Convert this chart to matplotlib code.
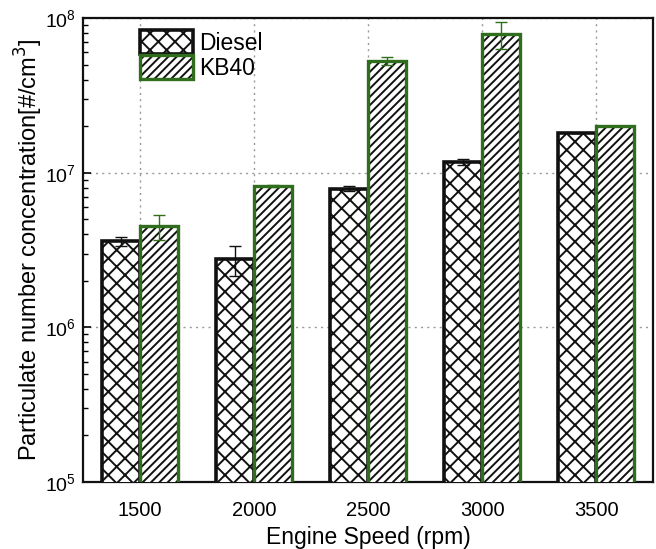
import matplotlib
matplotlib.use("Agg")
import matplotlib.pyplot as plt
import numpy as np
from matplotlib.patches import Patch
from matplotlib.legend_handler import HandlerTuple

plt.rcParams['font.family'] = ['Liberation Sans', 'DejaVu Sans']

speeds = ['1500', '2000', '2500', '3000', '3500']
diesel = [3.6e6, 2.76e6, 7.9e6, 1.17e7, 1.8e7]
diesel_err = [0.25e6, 0.6e6, 0.3e6, 0.5e6, 0.0]
kb40 = [4.5e6, 8.2e6, 5.3e7, 7.9e7, 2.0e7]
kb40_err = [0.8e6, 0.15e6, 3.0e6, 1.6e7, 0.0]

green = '#2f6e1c'
dark = '#111111'

fig = plt.figure(figsize=(6.56, 5.49), dpi=100)
ax = fig.add_axes([0.1265, 0.122, 0.869, 0.845])

x = np.arange(len(speeds))
w = 0.33
plt.rcParams['hatch.linewidth'] = 1.4

ax.bar(x - w/2, diesel, width=w, color='white', edgecolor=dark, hatch='xx',
       linewidth=2.6, zorder=3)
ax.bar(x + w/2, kb40, width=w, color='white', edgecolor=dark, hatch='////',
       linewidth=0, zorder=3)
ax.bar(x + w/2, kb40, width=w, fill=False, edgecolor=green, linewidth=2.4, zorder=4)

ax.errorbar(x - w/2, diesel, yerr=diesel_err, fmt='none', ecolor=dark,
            elinewidth=1.0, capsize=4, capthick=1.0, zorder=5)
ax.errorbar(x + w/2, kb40, yerr=kb40_err, fmt='none', ecolor=green,
            elinewidth=1.0, capsize=4, capthick=1.0, zorder=5)

ax.set_yscale('log')
ax.set_ylim(1e5, 1e8)
ax.set_xlim(-0.5, 4.5)
ax.set_xticks(x)
ax.set_xticklabels(speeds)
ax.tick_params(axis='x', length=0, pad=14, labelsize=14.5)
ax.tick_params(axis='y', which='major', direction='in', length=6, width=1.2,
               labelsize=14, pad=5)
ax.tick_params(axis='y', which='minor', direction='in', length=3.5, width=1.0)
ax.tick_params(axis='y', right=False)

ax.grid(True, axis='both', which='major', linestyle=(0, (1.5, 3)), color='#999999',
        linewidth=1.0, zorder=0)

for s in ax.spines.values():
    s.set_linewidth(1.6)
    s.set_color('#111111')

ax.set_xlabel('Engine Speed (rpm)', fontsize=16.5)
ax.xaxis.set_label_coords(0.5, -0.095)
ax.set_ylabel('Particulate number concentration[#/cm$^3$]', fontsize=17)
ax.yaxis.set_label_coords(-0.067, 0.5)

h1 = Patch(facecolor='white', edgecolor=dark, hatch='xx', linewidth=2.6)
h2a = Patch(facecolor='white', edgecolor=dark, hatch='////', linewidth=0)
h2b = Patch(fill=False, edgecolor=green, linewidth=2.4)
ax.legend([h1, (h2a, h2b)], ['Diesel', 'KB40'],
          handler_map={tuple: HandlerTuple(ndivide=1, pad=0)},
          loc='upper left', bbox_to_anchor=(0.1, 0.975), frameon=False,
          fontsize=16.5, handlelength=2.3, handleheight=1.25, handletextpad=0.3,
          labelspacing=0.02, borderaxespad=0, borderpad=0)

fig.savefig('out.png', dpi=100)
